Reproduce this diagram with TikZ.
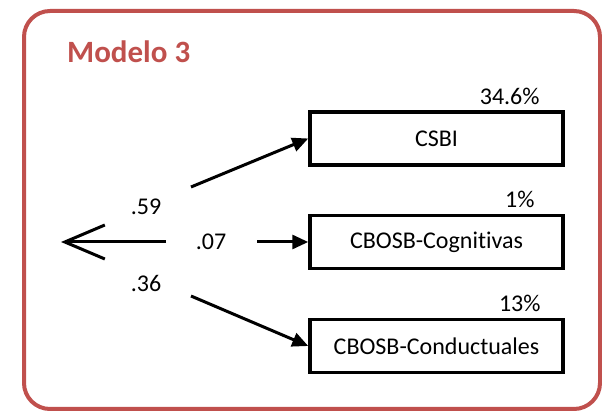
\documentclass[tikz,border=0pt]{standalone}
\usepackage{fontspec}
\setmainfont{Carlito}[Ligatures={NoCommon,NoRare,NoContextual}]
\usepackage{tikz}
\usetikzlibrary{arrows.meta}
\definecolor{framered}{HTML}{C0504D}

\begin{document}
\begin{tikzpicture}[x=1pt, y=1pt,
    box/.style={draw, line width=3.5pt, minimum width=253pt, minimum height=53pt,
        inner sep=0pt, font=\fontsize{24}{28}\selectfont},
    lbl/.style={inner sep=0pt, font=\fontsize{24}{28}\selectfont},
    path/.style={line width=3pt, -{Triangle[length=16pt,width=14pt]}}]
    \useasboundingbox (0,0) rectangle (602,412);
    % Frame
    \draw[framered, line width=4pt, rounded corners=26pt] (24,3) rectangle (600,401);
    \node[anchor=base west, inner sep=0pt, text=framered,
        font=\fontsize{31}{36}\selectfont\bfseries] (Title) at (67,349) {Modelo 3};
    % Outcomes
    \foreach \name/\i/\y in {CSBI/1/273.5,CBOSB-Cognitivas/2/170,CBOSB-Conductuales/3/66} {
        \node[box] (Outcome-\i) at (436.5,\y) {\name};
    }
    \foreach \pct/\i/\dx in {34.6\%/1/25,1\%/2/30,13\%/3/24} {
        \node[lbl, anchor=base east] (Pct-\i) at ([xshift=-\dx pt, yshift=6pt]Outcome-\i.north east) {\pct};
    }
    % Weights
    \foreach \w/\i/\x/\y in {.59/1/146/205,.07/2/211/170,.36/3/146/129} {
        \node[lbl] (Weight-\i) at (\x,\y) {\w};
    }
    % Predictor arrow
    \coordinate (Back) at (166,170);
    \coordinate (Tip) at (61,170);
    \draw[line width=3pt, -{Straight Barb[length=40pt,width=34pt]}] (Back) -- (Tip);
    % Arrows
    \coordinate (Start-1) at (191,225);
    \coordinate (Start-2) at (257,170);
    \coordinate (Start-3) at (191,116);
    \foreach \i in {1,2,3} {
        \draw[path] (Start-\i) -- (Outcome-\i.west);
    }
\end{tikzpicture}
\end{document}
